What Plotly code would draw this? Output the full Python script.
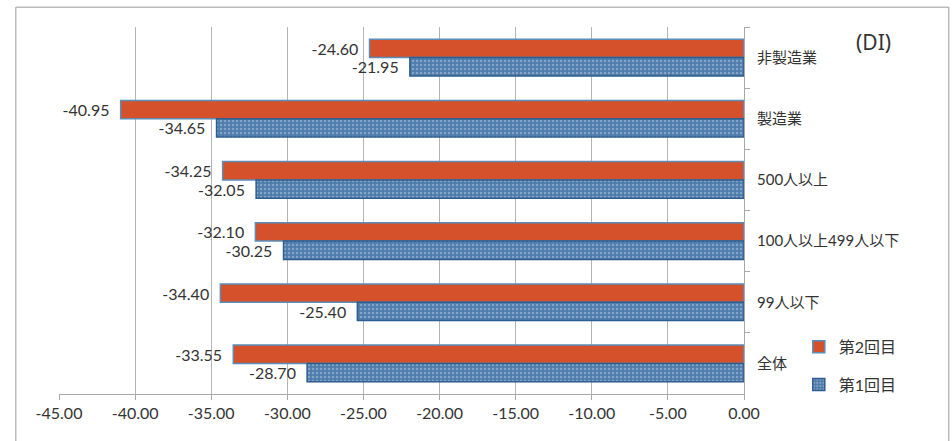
import plotly.graph_objects as go

# Categories, listed top to bottom as drawn
categories = ["非製造業", "製造業", "500人以上", "100人以上499人以下", "99人以下", "全体"]

# DI values for each survey round
round2 = [-24.60, -40.95, -34.25, -32.10, -34.40, -33.55]
round1 = [-21.95, -34.65, -32.05, -30.25, -25.40, -28.70]

series_names = ["第2回目", "第1回目"]
x_ticks = [-45, -40, -35, -30, -25, -20, -15, -10, -5, 0]

FONT = "Lato, Noto Sans CJK JP, sans-serif"
TEXT = "#333333"

fig = go.Figure()

fig.add_trace(go.Bar(
    name=series_names[0],
    y=categories,
    x=round2,
    orientation="h",
    legendgroup="r2",
    marker=dict(color="#d4512b", line=dict(color="#5a8db8", width=1.5)),
    text=[f"{v:.2f}  " for v in round2],
    textposition="outside",
    textfont=dict(family=FONT, size=16, color=TEXT),
    constraintext="none",
    cliponaxis=False,
))

fig.add_trace(go.Bar(
    name=series_names[1],
    y=categories,
    x=round1,
    orientation="h",
    legendgroup="r1",
    marker=dict(
        color="#4f7cab",
        line=dict(color="#2d5d8e", width=1.5),
        pattern=dict(shape=".", fgcolor="#b8cde4", size=4, solidity=0.3),
    ),
    text=[f"{v:.2f}  " for v in round1],
    textposition="outside",
    textfont=dict(family=FONT, size=16, color=TEXT),
    constraintext="none",
    cliponaxis=False,
))

fig.update_layout(
    width=952,
    height=441,
    margin=dict(l=59, r=208, t=27, b=47),
    paper_bgcolor="#ffffff",
    plot_bgcolor="#ffffff",
    barmode="group",
    bargap=0.4,
    bargroupgap=0,
    font=dict(family=FONT, size=15, color=TEXT),
    legend=dict(
        x=1.08, y=0.175, xanchor="left", yanchor="top",
        traceorder="grouped", tracegroupgap=14,
        font=dict(family=FONT, size=16, color=TEXT),
        bgcolor="rgba(0,0,0,0)",
        itemwidth=30,
    ),
    showlegend=True,
)

fig.update_xaxes(
    range=[-45, 0],
    tickvals=x_ticks,
    ticktext=[f"{v:.2f}" for v in x_ticks],
    showgrid=True,
    gridcolor="#b5b5b5",
    gridwidth=1,
    zeroline=False,
    showline=True,
    linecolor="#a8a8a8",
    linewidth=1,
    ticks="outside",
    ticklen=5,
    tickcolor="#a8a8a8",
    tickfont=dict(family=FONT, size=16, color=TEXT),
)

fig.update_yaxes(
    type="category",
    categoryorder="array",
    categoryarray=categories,
    autorange="reversed",
    side="right",
    showgrid=False,
    showline=True,
    linecolor="#a8a8a8",
    linewidth=1,
    ticks="outside",
    tickson="boundaries",
    ticklen=5,
    tickcolor="#a8a8a8",
    ticklabelstandoff=9,
    tickfont=dict(family=FONT, size=15, color=TEXT),
)

# Unit label
fig.add_annotation(
    text="(DI)", x=1.2175, y=0.96, xref="paper", yref="paper",
    xanchor="right", yanchor="middle",
    showarrow=False, font=dict(family="Noto Sans, sans-serif", size=21, color=TEXT),
)

# Chart frame
fig.add_shape(
    type="rect", xref="paper", yref="paper",
    x0=-0.063, x1=1.299, y0=-0.135, y1=1.054,
    line=dict(color="#9a9a9a", width=1),
)

fig.write_html("out.html")
